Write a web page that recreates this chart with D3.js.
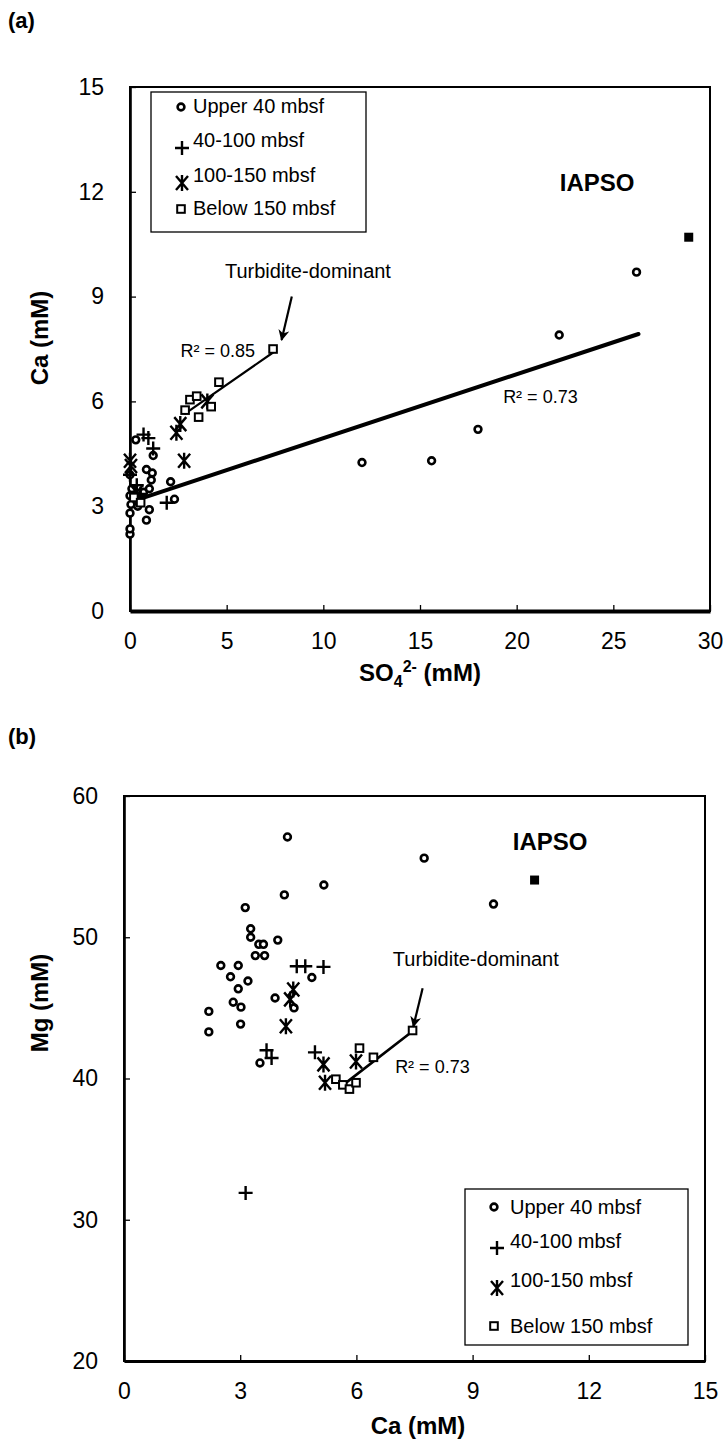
<!DOCTYPE html>
<html>
<head>
<meta charset="utf-8">
<script src="https://cdn.jsdelivr.net/npm/d3@7"></script>
<style>
  body { margin: 0; background: #fff; }
  text { font-family: Arial, "Liberation Sans", Helvetica, sans-serif; fill: #000; }
</style>
</head>
<body>
<div id="chart"></div>
<script>
// ---- panel (a): SO4 (mM) vs Ca (mM)
var aUpper40 = [[0.0,2.2],[0.0,2.35],[0.0,2.8],[0.05,3.05],[0.0,3.3],[0.1,3.5],[0.0,3.9],
  [0.3,4.9],[0.3,3.3],[0.5,3.15],[0.7,3.4],[0.85,4.05],[1.15,3.95],[1.1,3.75],[1.0,3.5],
  [1.2,4.45],[2.1,3.7],[2.3,3.2],[1.0,2.9],[0.85,2.6],[0.4,3.0],
  [12.0,4.25],[15.6,4.3],[18.0,5.2],[22.2,7.9],[26.2,9.7]];
var a40to100 = [[0.7,5.05],[0.95,4.95],[1.2,4.65],[0.0,3.9],[0.35,3.6],[1.9,3.1],[0.55,3.35]];
var a100to150 = [[0.0,4.3],[0.05,4.15],[2.4,5.1],[2.6,5.35],[2.8,4.3],[4.0,6.0],[0.35,3.4]];
var aBelow150 = [[7.4,7.5],[4.6,6.55],[3.1,6.05],[3.45,6.15],[4.2,5.85],[2.85,5.75],[3.55,5.55],[0.2,3.25],[0.55,3.1]];
var aIAPSO = [[28.9,10.7]];
var aFitAll = [[0.4,3.19],[26.3,7.93]];
var aFitTurb = [[2.85,5.65],[7.4,7.4]];
var aXTicks = [0,5,10,15,20,25,30];
var aYTicks = [0,3,6,9,12,15];

// ---- panel (b): Ca (mM) vs Mg (mM)
var bUpper40 = [[4.22,57.1],[7.75,55.6],[5.16,53.7],[4.14,53.0],[3.13,52.1],[3.27,50.6],[3.27,50.0],
  [3.48,49.5],[3.6,49.5],[3.39,48.7],[3.63,48.7],[3.97,49.8],[2.5,48.0],[2.95,48.0],[2.75,47.2],
  [3.2,46.9],[2.95,46.35],[4.85,47.15],[2.19,44.75],[2.19,43.3],[2.82,45.4],[3.02,45.05],
  [3.01,43.85],[3.9,45.7],[4.39,45.0],[3.51,41.1],[9.54,52.35]];
var b40to100 = [[4.46,47.95],[4.68,47.95],[5.15,47.9],[3.68,42.0],[3.81,41.45],[4.93,41.85],[3.14,31.9]];
var b100to150 = [[4.37,46.3],[4.29,45.6],[4.18,43.7],[5.15,41.0],[5.19,39.7],[5.99,41.2]];
var bBelow150 = [[5.47,39.95],[5.65,39.55],[5.82,39.25],[5.99,39.7],[6.08,42.15],[6.44,41.5],[7.45,43.4]];
var bIAPSO = [[10.6,54.05]];
var bFitTurb = [[5.66,39.55],[7.45,43.35]];
var bXTicks = [0,3,6,9,12,15];
var bYTicks = [20,30,40,50,60];

var legendLabels = ["Upper 40 mbsf", "40-100 mbsf", "100-150 mbsf", "Below 150 mbsf"];

var svg = d3.select("#chart").append("svg")
    .attr("width", 723)
    .attr("height", 1452);

svg.append("defs").append("marker")
    .attr("id", "arrow")
    .attr("viewBox", "0 0 10 10")
    .attr("refX", 9).attr("refY", 5)
    .attr("markerWidth", 5).attr("markerHeight", 5)
    .attr("markerUnits", "strokeWidth")
    .attr("orient", "auto")
  .append("path")
    .attr("d", "M0,0L10,5L0,10L3,5Z")
    .attr("fill", "#000");

// marker shapes
function drawMarker(g, type) {
  if (type == "circle") {
    g.append("circle").attr("r", 3.4)
      .attr("fill", "#fff").attr("stroke", "#000").attr("stroke-width", 2.6);
  } else if (type == "plus") {
    g.append("path").attr("d", "M-7,0H7M0,-7V7")
      .attr("stroke", "#000").attr("stroke-width", 2.4).attr("fill", "none");
  } else if (type == "star") {
    g.append("path").attr("d", "M-6,-7L6,7M-6,7L6,-7M0,-8V8")
      .attr("stroke", "#000").attr("stroke-width", 2.4).attr("fill", "none");
  } else if (type == "square") {
    g.append("rect").attr("x", -3.8).attr("y", -3.8).attr("width", 7.6).attr("height", 7.6)
      .attr("fill", "#fff").attr("stroke", "#000").attr("stroke-width", 2);
  } else if (type == "filled") {
    g.append("rect").attr("x", -4.5).attr("y", -4.5).attr("width", 9).attr("height", 9)
      .attr("fill", "#000");
  }
}

function plotSeries(g, data, type, x, y) {
  g.append("g").selectAll("g")
    .data(data)
    .enter()
    .append("g")
      .attr("transform", function(d) { return "translate(" + x(d[0]) + "," + y(d[1]) + ")"; })
      .each(function() { drawMarker(d3.select(this), type); });
}

function panel(o) {
  var g = svg.append("g");

  var x = d3.scaleLinear().domain([o.xTicks[0], o.xTicks[o.xTicks.length - 1]]).range([o.left, o.right]);
  var y = d3.scaleLinear().domain([o.yTicks[0], o.yTicks[o.yTicks.length - 1]]).range([o.bottom, o.top]);

  g.append("rect")
    .attr("x", o.left).attr("y", o.top)
    .attr("width", o.right - o.left).attr("height", o.bottom - o.top)
    .attr("fill", "none").attr("stroke", "#000").attr("stroke-width", 2);

  var xAxis = g.append("g")
    .attr("transform", "translate(0," + o.bottom + ")")
    .call(d3.axisBottom(x).tickValues(o.xTicks).tickSizeInner(-6).tickSizeOuter(0).tickPadding(22));
  var yAxis = g.append("g")
    .attr("transform", "translate(" + o.left + ",0)")
    .call(d3.axisLeft(y).tickValues(o.yTicks).tickSizeInner(-6).tickSizeOuter(0).tickPadding(26));

  xAxis.attr("font-size", 23).select(".domain").attr("stroke-width", o.bottomWidth);
  yAxis.attr("font-size", 23).select(".domain").attr("stroke-width", 2.6);
  g.selectAll(".tick line").attr("stroke-width", 1.3);

  return {g: g, x: x, y: y};
}

function legend(g, box, rows) {
  g.append("rect")
    .attr("x", box.x).attr("y", box.y).attr("width", box.w).attr("height", box.h)
    .attr("fill", "#fff").attr("stroke", "#000").attr("stroke-width", 1.3);
  var types = ["circle", "plus", "star", "square"];
  rows.forEach(function(r, i) {
    var m = g.append("g").attr("transform", "translate(" + r.mx + "," + r.my + ")");
    drawMarker(m, types[i]);
    g.append("text")
      .attr("x", box.textX).attr("y", r.ty)
      .attr("font-size", 20)
      .text(legendLabels[i]);
  });
}

function fitLine(g, data, x, y, w) {
  g.append("path")
    .datum(data)
    .attr("d", d3.line().x(function(d) { return x(d[0]); }).y(function(d) { return y(d[1]); }))
    .attr("fill", "none").attr("stroke", "#000").attr("stroke-width", w)
    .attr("stroke-linecap", "round");
}

function arrow(g, x1, y1, x2, y2) {
  g.append("line")
    .attr("x1", x1).attr("y1", y1).attr("x2", x2).attr("y2", y2)
    .attr("stroke", "#000").attr("stroke-width", 2.2)
    .attr("marker-end", "url(#arrow)");
}

// ============ (a)
svg.append("text").attr("x", 8).attr("y", 28)
  .attr("font-size", 22).attr("font-weight", "bold").text("(a)");

var A = panel({left: 130, right: 710, top: 87, bottom: 611,
               xTicks: aXTicks, yTicks: aYTicks, bottomWidth: 4});

fitLine(A.g, aFitAll, A.x, A.y, 4);
fitLine(A.g, aFitTurb, A.x, A.y, 2.2);

plotSeries(A.g, aUpper40, "circle", A.x, A.y);
plotSeries(A.g, a40to100, "plus", A.x, A.y);
plotSeries(A.g, a100to150, "star", A.x, A.y);
plotSeries(A.g, aBelow150, "square", A.x, A.y);
plotSeries(A.g, aIAPSO, "filled", A.x, A.y);

arrow(A.g, A.x(8.37), A.y(9.0), A.x(7.84), A.y(7.76));
A.g.append("text").attr("x", A.x(4.91)).attr("y", A.y(9.53))
  .attr("font-size", 20).text("Turbidite-dominant");
A.g.append("text").attr("x", A.x(6.47)).attr("y", A.y(7.27))
  .attr("font-size", 18).attr("text-anchor", "end").text("R² = 0.85");
A.g.append("text").attr("x", A.x(19.3)).attr("y", A.y(5.95))
  .attr("font-size", 18).text("R² = 0.73");
A.g.append("text").attr("x", A.x(24.16)).attr("y", A.y(12.02))
  .attr("font-size", 24).attr("font-weight", "bold").attr("text-anchor", "middle").text("IAPSO");

legend(A.g, {x: 151, y: 92, w: 215, h: 140, textX: 193}, [
  {mx: 181, my: 107, ty: 113},
  {mx: 182, my: 148, ty: 147},
  {mx: 182, my: 183, ty: 182},
  {mx: 181, my: 209, ty: 215}
]);

svg.append("text")
  .attr("transform", "translate(48,338) rotate(-90)")
  .attr("text-anchor", "middle").attr("font-size", 24).attr("font-weight", "bold")
  .text("Ca (mM)");

var ax = svg.append("text")
  .attr("x", 420).attr("y", 681)
  .attr("text-anchor", "middle").attr("font-size", 24).attr("font-weight", "bold");
ax.append("tspan").text("SO");
ax.append("tspan").attr("dy", 6).attr("font-size", 16).text("4");
ax.append("tspan").attr("dy", -15).attr("font-size", 16).text("2-");
ax.append("tspan").attr("dy", 9).text(" (mM)");

// ============ (b)
svg.append("text").attr("x", 8).attr("y", 744)
  .attr("font-size", 22).attr("font-weight", "bold").text("(b)");

var B = panel({left: 124, right: 705, top: 796, bottom: 1361,
               xTicks: bXTicks, yTicks: bYTicks, bottomWidth: 3});

fitLine(B.g, bFitTurb, B.x, B.y, 2.6);

plotSeries(B.g, bUpper40, "circle", B.x, B.y);
plotSeries(B.g, b40to100, "plus", B.x, B.y);
plotSeries(B.g, b100to150, "star", B.x, B.y);
plotSeries(B.g, bBelow150, "square", B.x, B.y);
plotSeries(B.g, bIAPSO, "filled", B.x, B.y);

arrow(B.g, B.x(7.71), B.y(46.39), B.x(7.47), B.y(43.68));
B.g.append("text").attr("x", B.x(6.94)).attr("y", B.y(47.97))
  .attr("font-size", 20).text("Turbidite-dominant");
B.g.append("text").attr("x", B.x(7.0)).attr("y", B.y(40.4))
  .attr("font-size", 18).text("R² = 0.73");
B.g.append("text").attr("x", B.x(11.0)).attr("y", B.y(56.18))
  .attr("font-size", 24).attr("font-weight", "bold").attr("text-anchor", "middle").text("IAPSO");

legend(B.g, {x: 465, y: 1189, w: 223, h: 156, textX: 510}, [
  {mx: 494, my: 1207, ty: 1214},
  {mx: 497, my: 1248, ty: 1248},
  {mx: 497, my: 1288, ty: 1287},
  {mx: 494, my: 1326, ty: 1333}
]);

svg.append("text")
  .attr("transform", "translate(48,1003) rotate(-90)")
  .attr("text-anchor", "middle").attr("font-size", 24).attr("font-weight", "bold")
  .text("Mg (mM)");

svg.append("text")
  .attr("x", 418).attr("y", 1434)
  .attr("text-anchor", "middle").attr("font-size", 24).attr("font-weight", "bold")
  .text("Ca (mM)");
</script>
</body>
</html>
